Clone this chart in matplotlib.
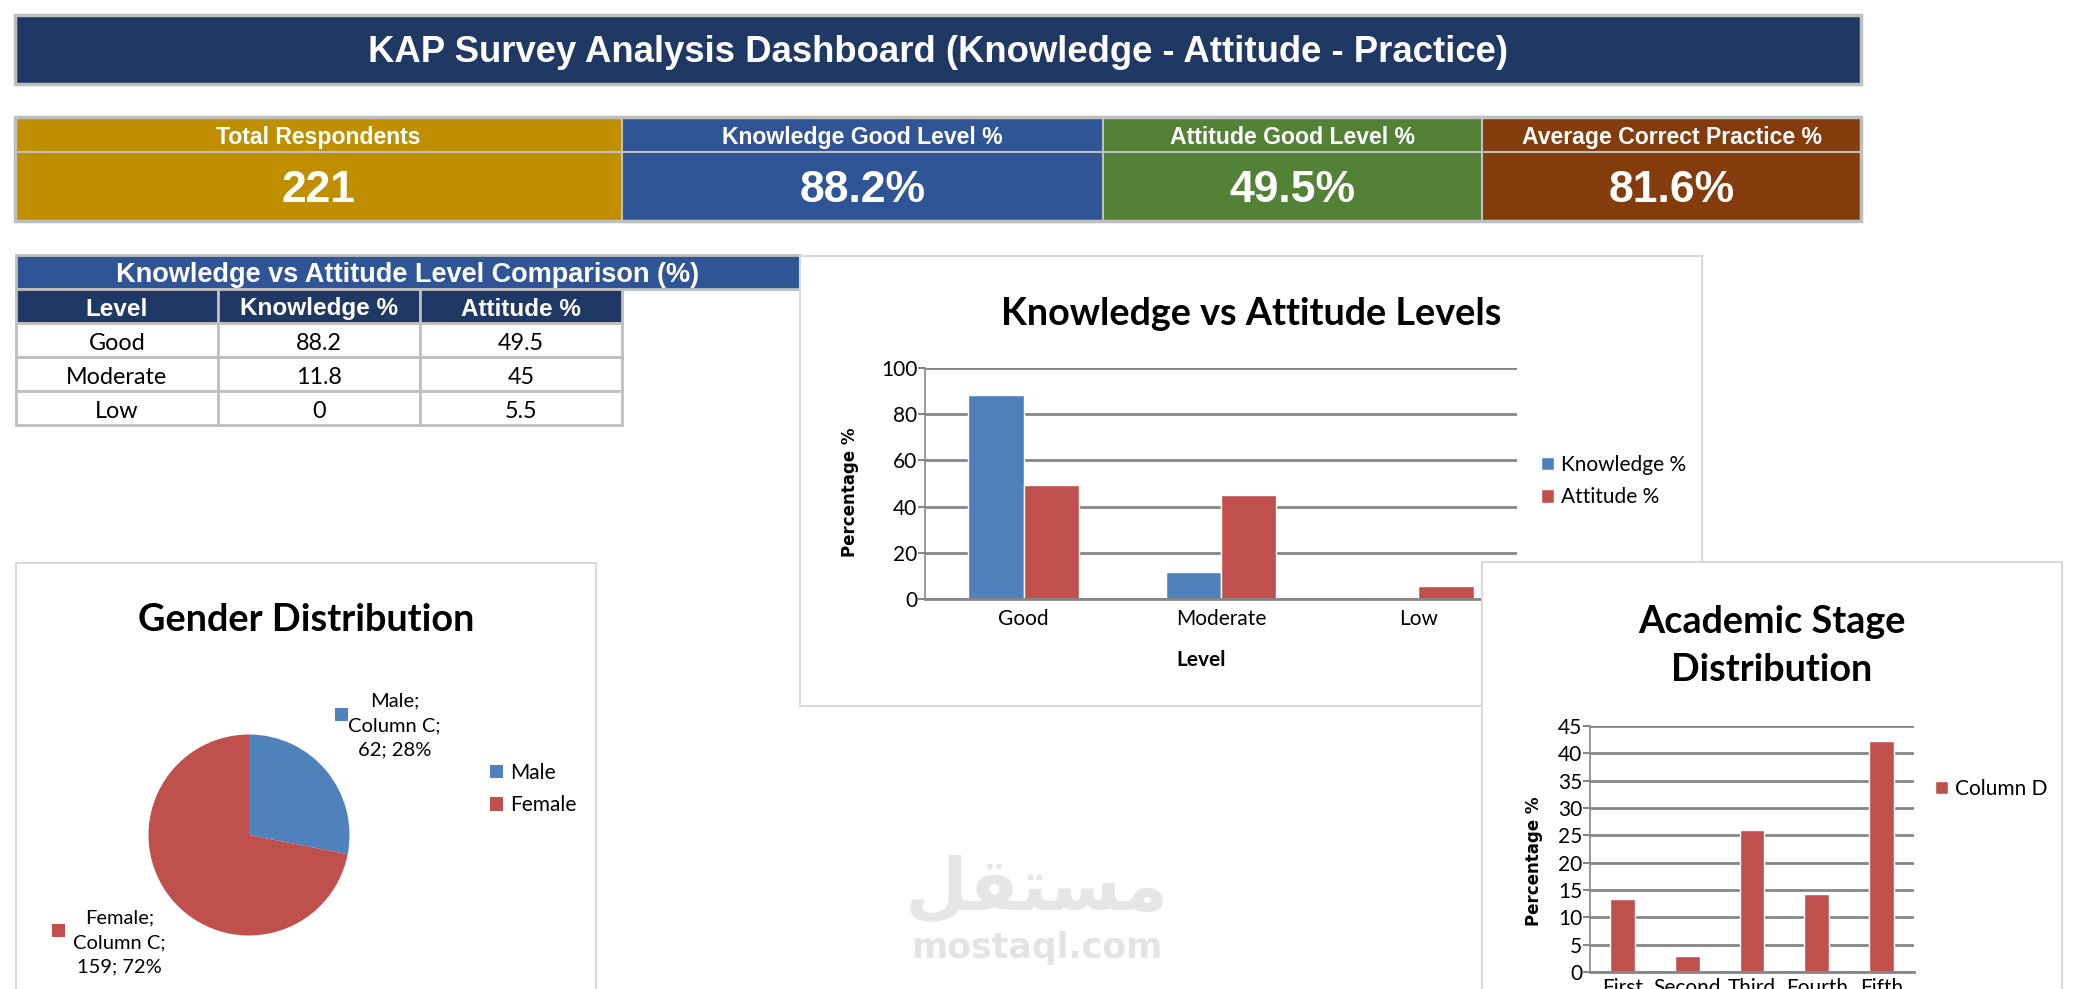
import numpy as np
import matplotlib
matplotlib.use("Agg")
import matplotlib.pyplot as plt
from matplotlib.patches import Rectangle

# ---------------- data ----------------
dashboard_title = "KAP Survey Analysis Dashboard (Knowledge - Attitude - Practice)"
kpi_labels = ["Total Respondents", "Knowledge Good Level %",
              "Attitude Good Level %", "Average Correct Practice %"]
kpi_values = ["221", "88.2%", "49.5%", "81.6%"]

table_title = "Knowledge vs Attitude Level Comparison (%)"
table_headers = ["Level", "Knowledge %", "Attitude %"]
levels = ["Good", "Moderate", "Low"]
knowledge_pct = [88.2, 11.8, 0]
attitude_pct = [49.5, 45, 5.5]

gender_labels = ["Male", "Female"]
gender_counts = [62, 159]
gender_series = "Column C"

stages = ["First", "Second", "Third", "Fourth", "Fifth"]
stage_pct = [13.4, 3.0, 26.0, 14.3, 42.2]
stage_series = "Column D"

# ---------------- styles ----------------
W, H = 2077, 989
NAVY = "#1F3864"
KPI_COLORS = ["#BF8F00", "#2F5597", "#538135", "#843C0C"]
TBL_BLUE = "#2F5597"
BORDER = "#BFBFBF"
FRAME = "#D9D9D9"
BLUE = "#4F81BD"
RED = "#C0504D"
GRID = "#868686"
SANS = "Liberation Sans"
CHART = "Lato"

fig = plt.figure(figsize=(W / 100, H / 100), dpi=100)
fig.patch.set_facecolor("white")


def rect(x0, y0, x1, y1):
    return [x0 / W, 1 - y1 / H, (x1 - x0) / W, (y1 - y0) / H]


def ftext(x, y, s, z=5, **kw):
    return fig.text(x / W, 1 - y / H, s, zorder=z, **kw)


bg = fig.add_axes([0, 0, 1, 1], zorder=0)
bg.set_xlim(0, W)
bg.set_ylim(H, 0)
bg.axis("off")


def box(x0, y0, x1, y1, fc, ec=BORDER, lw=2):
    bg.add_patch(Rectangle((x0, y0), x1 - x0, y1 - y0, facecolor=fc,
                           edgecolor=ec, linewidth=lw))


# ---- banner ----
box(15, 15, 1861, 84, NAVY, lw=2.5)
bg.text(938, 53, dashboard_title, ha="center", va="center", color="white",
        fontsize=26.3, fontweight="bold", family=SANS)

# ---- KPI cards ----
kx = [15, 622, 1103, 1482, 1861]
for i in range(4):
    box(kx[i], 117, kx[i + 1], 152, KPI_COLORS[i], lw=1.5)
    box(kx[i], 152, kx[i + 1], 221, KPI_COLORS[i], lw=1.5)
    cx = (kx[i] + kx[i + 1]) / 2
    bg.text(cx, 137.5, kpi_labels[i], ha="center", va="center", color="white",
            fontsize=16.6, fontweight="bold", family=SANS)
    bg.text(cx, 191, kpi_values[i], ha="center", va="center", color="white",
            fontsize=32, fontweight="bold", family=SANS)
bg.add_patch(Rectangle((15, 117), 1846, 104, fill=False, edgecolor=BORDER, linewidth=2.5))

# ---- table ----
box(16, 255, 800, 289, TBL_BLUE, lw=2)
bg.text(408, 275, table_title, ha="center", va="center", color="white",
        fontsize=19.5, fontweight="bold", family=SANS)
tx = [16, 218, 420, 622]
for j, h in enumerate(table_headers):
    box(tx[j], 289, tx[j + 1], 323, NAVY, lw=2)
    bg.text((tx[j] + tx[j + 1]) / 2, 309, h, ha="center", va="center",
            color="white", fontsize=17.5, fontweight="bold", family=SANS)
for r in range(len(levels)):
    y0 = 323 + 34 * r
    row = [levels[r], f"{knowledge_pct[r]:g}", f"{attitude_pct[r]:g}"]
    for j in range(3):
        box(tx[j], y0, tx[j + 1], y0 + 34, "white", lw=2)
        bg.text((tx[j] + tx[j + 1]) / 2, y0 + 20, row[j], ha="center",
                va="center", color="black", fontsize=16.8, family=CHART)

# ---- watermark ----
bg.text(1037, 890, "\uFEDE\uFED8\uFE98\uFEB4\uFEE3", ha="center", va="center",
        color="#E6E6E6", fontsize=52, fontweight="bold", family="DejaVu Sans")
bg.text(1037, 948, "mostaql.com", ha="center", va="center", color="#E4E4E4",
        fontsize=25, fontweight="bold", family="DejaVu Sans")


def frame_axes(x0, y0, x1, y1, z):
    a = fig.add_axes(rect(x0, y0, x1, y1), zorder=z)
    a.set_xticks([])
    a.set_yticks([])
    a.set_facecolor("white")
    for s in a.spines.values():
        s.set_color(FRAME)
        s.set_linewidth(1.5)
    return a


def style_bar_axes(a):
    a.set_axisbelow(True)
    a.yaxis.grid(True, color=GRID, linewidth=2)
    for s in ["top", "right"]:
        a.spines[s].set_visible(False)
    a.spines["left"].set_color(GRID)
    a.spines["left"].set_linewidth(1.2)
    a.spines["bottom"].set_color(GRID)
    a.spines["bottom"].set_linewidth(2)
    a.tick_params(axis="y", direction="out", length=5, width=1.5, color=GRID,
                  labelsize=15, pad=0.5)
    a.tick_params(axis="x", length=0, labelsize=15, pad=7)
    for lab in a.get_xticklabels() + a.get_yticklabels():
        lab.set_family(CHART)
    a.set_facecolor("none")


LEG = dict(frameon=False, borderpad=0, borderaxespad=0, handlelength=0.6,
           handleheight=0.6, handletextpad=0.35, labelspacing=0.6,
           bbox_transform=fig.transFigure, loc="center left",
           prop={"family": CHART, "size": 15})

# ---- Knowledge vs Attitude chart ----
frame_axes(800, 256, 1702, 706, 1)
ax1 = fig.add_axes(rect(925, 368, 1517, 599), zorder=2)
x = np.arange(len(levels))
bw = 0.28
ax1.bar(x - bw / 2, knowledge_pct, bw, color=BLUE, edgecolor="white",
        linewidth=1, label="Knowledge %")
ax1.bar(x + bw / 2, attitude_pct, bw, color=RED, edgecolor="white",
        linewidth=1, label="Attitude %")
ax1.set_xlim(-0.5, len(levels) - 0.5)
ax1.set_ylim(0, 100)
ax1.set_yticks(np.arange(0, 101, 20))
ax1.set_xticks(x)
ax1.set_xticklabels(levels)
style_bar_axes(ax1)
ax1.set_ylabel("Percentage %", family="DejaVu Sans", fontweight="bold",
               fontsize=12, va="center")
ax1.yaxis.set_label_coords((850 - 925) / 592, (599 - 492) / 231)
ax1.set_xlabel("Level", family=CHART, fontweight="bold", fontsize=15)
ax1.xaxis.set_label_coords((1201 - 925) / 592, (599 - 660) / 231)
ax1.xaxis.label.set_va("center")
ax1.legend(bbox_to_anchor=(1541 / W, 1 - 481 / H), **LEG)
ftext(1251, 314, "Knowledge vs Attitude Levels", z=2.5, ha="center", va="center",
      family=CHART, fontweight="bold", fontsize=27.2)

# ---- Gender pie ----
frame_axes(16, 563, 596, 1000, 1)
axp = fig.add_axes(rect(148.5, 734.5, 349.5, 935.5), zorder=2)
axp.pie(gender_counts, colors=[BLUE, RED], startangle=90, counterclock=False,
        radius=1, wedgeprops=dict(edgecolor="none"))
axp.set_xlim(-1, 1)
axp.set_ylim(-1, 1)
axp.set_aspect("equal")
total = sum(gender_counts)
lab_pos = [(1.45, 1.09), (-1.29, -1.07)]
mk_pos = [(0.92, 1.20), (-1.90, -0.95)]
for i, g in enumerate(gender_labels):
    pct = round(100 * gender_counts[i] / total)
    axp.text(*lab_pos[i], f"{g};\n{gender_series};\n{gender_counts[i]}; {pct}%",
             ha="center", va="center", family=CHART, fontsize=14.5,
             linespacing=1.55, clip_on=False)
    axp.add_patch(Rectangle((mk_pos[i][0] - 0.065, mk_pos[i][1] - 0.065), 0.13, 0.13,
                            facecolor=[BLUE, RED][i], edgecolor="none", clip_on=False))
axp.legend(gender_labels, bbox_to_anchor=(490 / W, 1 - 789 / H), **LEG)
ftext(306, 620, "Gender Distribution", z=2.5, ha="center", va="center",
      family=CHART, fontweight="bold", fontsize=27.3)

# ---- Academic stage chart ----
frame_axes(1482, 562, 2062, 1000, 3)
ax2 = fig.add_axes(rect(1590, 726, 1914, 972), zorder=4)
xs = np.arange(len(stages))
ax2.bar(xs, stage_pct, 0.38, color=RED, edgecolor="white", linewidth=1,
        label=stage_series)
ax2.set_xlim(-0.5, len(stages) - 0.5)
ax2.set_ylim(0, 45)
ax2.set_yticks(np.arange(0, 46, 5))
ax2.set_xticks(xs)
ax2.set_xticklabels(stages)
style_bar_axes(ax2)
ax2.tick_params(axis="x", pad=4)
ax2.set_ylabel("Percentage %", family="DejaVu Sans", fontweight="bold",
               fontsize=12, va="center")
ax2.yaxis.set_label_coords((1534 - 1590) / 324, (972 - 861) / 246)
ax2.legend(bbox_to_anchor=(1935 / W, 1 - 789 / H), **LEG)
ftext(1772, 646, "Academic Stage\nDistribution", z=4.5, ha="center", va="center",
      family=CHART, fontweight="bold", fontsize=27.2, linespacing=1.5)

fig.savefig("out.png", dpi=100, facecolor="white")
